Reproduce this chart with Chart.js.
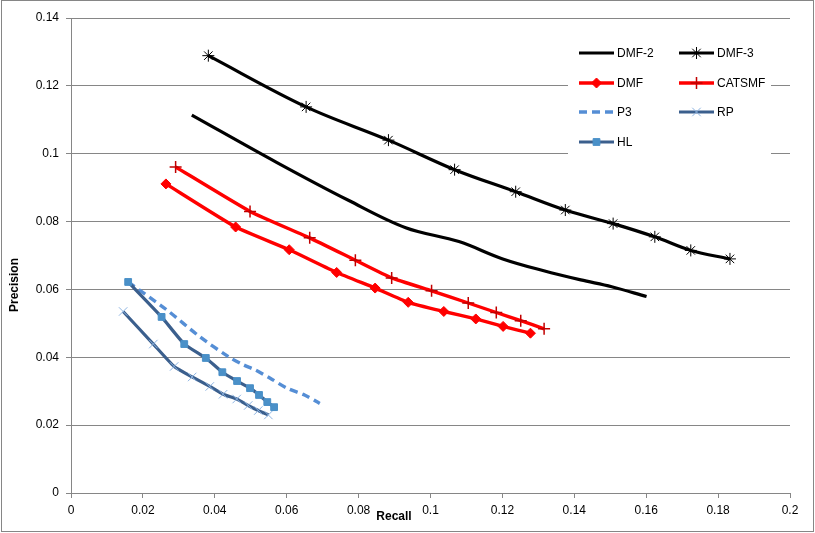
<!DOCTYPE html>
<html>
<head>
<meta charset="utf-8">
<script src="https://cdn.jsdelivr.net/npm/chart.js@4/dist/chart.umd.min.js"></script>
<style>
    html, body { margin: 0; padding: 0; background: #fff; }
    #wrap { width: 815px; height: 533px; position: relative; }
</style>
</head>
<body>
<div id="wrap"><canvas id="chart"></canvas></div>
<script>
// Precision / recall curves

const recallTicks = [0, 0.02, 0.04, 0.06, 0.08, 0.1, 0.12, 0.14, 0.16, 0.18, 0.2];
const precisionTicks = [0, 0.02, 0.04, 0.06, 0.08, 0.1, 0.12, 0.14];

const seriesNames = ['DMF-2', 'DMF-3', 'DMF', 'CATSMF', 'P3', 'RP', 'HL'];

const dmf2Recall = [0.0336, 0.0573, 0.0773, 0.0931, 0.1079, 0.1201, 0.1315, 0.1418, 0.1504, 0.1601];
const dmf2Precision = [0.1114, 0.0974, 0.0862, 0.0782, 0.0741, 0.0690, 0.0655, 0.0628, 0.0608, 0.0579];

const dmf3Recall = [0.0382, 0.0654, 0.0883, 0.1067, 0.1237, 0.1375, 0.1508, 0.1624, 0.1724, 0.1833];
const dmf3Precision = [0.1289, 0.1138, 0.1040, 0.0953, 0.0888, 0.0834, 0.0794, 0.0755, 0.0715, 0.0690];

const dmfRecall = [0.0264, 0.0458, 0.0607, 0.0739, 0.0846, 0.0938, 0.1037, 0.1126, 0.1202, 0.1278];
const dmfPrecision = [0.0911, 0.0784, 0.0717, 0.0650, 0.0604, 0.0562, 0.0535, 0.0513, 0.0491, 0.0471];

const catsmfRecall = [0.0291, 0.0498, 0.0664, 0.0791, 0.0892, 0.1003, 0.1105, 0.1183, 0.1251, 0.1316];
const catsmfPrecision = [0.0961, 0.0830, 0.0752, 0.0686, 0.0634, 0.0596, 0.0560, 0.0532, 0.0508, 0.0484];

const p3Recall = [0.0159, 0.0266, 0.0359, 0.0439, 0.0479, 0.0514, 0.0553, 0.0601, 0.0651, 0.0692];
const p3Precision = [0.0622, 0.0540, 0.0460, 0.0401, 0.0378, 0.0362, 0.0339, 0.0309, 0.0288, 0.0264];

const rpRecall = [0.0145, 0.0229, 0.0287, 0.0337, 0.0386, 0.0423, 0.0461, 0.0493, 0.0521, 0.0549];
const rpPrecision = [0.0535, 0.0439, 0.0373, 0.0342, 0.0314, 0.0291, 0.0277, 0.0258, 0.0243, 0.0230];

const hlRecall = [0.0159, 0.0252, 0.0315, 0.0375, 0.0421, 0.0462, 0.0498, 0.0523, 0.0546, 0.0565];
const hlPrecision = [0.0622, 0.0519, 0.0439, 0.0398, 0.0356, 0.0330, 0.0309, 0.0289, 0.0268, 0.0253];

function toPoints(xs, ys) {
    return xs.map((x, i) => ({ x: x, y: ys[i] }));
}

const FONT = '"Liberation Sans", Arial, sans-serif';
const GRID = '#868686';
const DARK_BLUE = '#3b5f8d';

const datasets = [
    { label: seriesNames[0], data: toPoints(dmf2Recall, dmf2Precision),
      borderColor: '#000', borderWidth: 3.2, pointRadius: 0, tension: 0.35 },
    { label: seriesNames[1], data: toPoints(dmf3Recall, dmf3Precision),
      borderColor: '#000', borderWidth: 3.2, tension: 0.35,
      pointStyle: 'star', pointRadius: 6, pointBorderColor: '#000', pointBorderWidth: 1, pointBackgroundColor: '#000' },
    { label: seriesNames[2], data: toPoints(dmfRecall, dmfPrecision),
      borderColor: '#ff0000', borderWidth: 3.4, tension: 0.15,
      pointStyle: 'rectRot', pointRadius: 5, pointBorderColor: '#ff0000', pointBorderWidth: 1, pointBackgroundColor: '#ff0000' },
    { label: seriesNames[3], data: toPoints(catsmfRecall, catsmfPrecision),
      borderColor: '#ff0000', borderWidth: 3.4, tension: 0.15,
      pointStyle: 'cross', pointRadius: 6, pointBorderColor: '#c00000', pointBorderWidth: 1.5, pointBackgroundColor: '#c00000' },
    { label: seriesNames[4], data: toPoints(p3Recall, p3Precision),
      borderColor: '#558ed5', borderWidth: 3.4, borderDash: [8, 5], pointRadius: 0, tension: 0.3 },
    { label: seriesNames[5], data: toPoints(rpRecall, rpPrecision),
      borderColor: DARK_BLUE, borderWidth: 3.2, tension: 0.15,
      pointStyle: 'crossRot', pointRadius: 6, pointBorderColor: '#8db4e2', pointBorderWidth: 1, pointBackgroundColor: '#8db4e2' },
    { label: seriesNames[6], data: toPoints(hlRecall, hlPrecision),
      borderColor: DARK_BLUE, borderWidth: 3.2, tension: 0.15,
      pointStyle: 'rect', pointRadius: 4.8, pointBorderColor: '#4a90c8', pointBorderWidth: 1, pointBackgroundColor: '#4a90c8' }
];

// excel draws later series on top
datasets.forEach((ds, i) => {
    ds.order = datasets.length - i;
    ds.showLine = true;
    ds.fill = false;
    ds.pointHoverRadius = ds.pointRadius;
});

// legend in two columns inside the plot, plus axis titles and chart border
const extrasPlugin = {
    id: 'extras',
    afterDraw(chart) {
        const ctx = chart.ctx;
        ctx.save();

        // white legend box hides the gridlines behind it
        ctx.fillStyle = '#fff';
        ctx.fillRect(568, 36, 203, 122);

        const colX = [579, 679];
        const rowY = [53, 83, 112, 142];
        const lineLen = 35;
        ctx.font = '12px ' + FONT;
        ctx.textBaseline = 'middle';
        ctx.textAlign = 'left';

        chart.data.datasets.forEach((ds, i) => {
            const x = colX[i % 2];
            const y = rowY[Math.floor(i / 2)];
            ctx.save();
            ctx.strokeStyle = ds.borderColor;
            ctx.lineWidth = ds.borderWidth;
            ctx.setLineDash(ds.borderDash || []);
            ctx.beginPath();
            ctx.moveTo(x, y);
            ctx.lineTo(x + lineLen, y);
            ctx.stroke();
            ctx.restore();

            if (ds.pointRadius > 0) {
                ctx.save();
                ctx.fillStyle = ds.pointBackgroundColor;
                ctx.strokeStyle = ds.pointBorderColor;
                ctx.lineWidth = ds.pointBorderWidth;
                Chart.helpers.drawPoint(ctx, {
                    pointStyle: ds.pointStyle,
                    radius: ds.pointRadius,
                    rotation: 0,
                    borderWidth: ds.pointBorderWidth
                }, x + lineLen / 2, y);
                ctx.restore();
            }

            ctx.fillStyle = '#000';
            ctx.fillText(ds.label, x + lineLen + 3, y + 1);
        });

        // axis titles
        ctx.fillStyle = '#000';
        ctx.font = 'bold 12px ' + FONT;
        ctx.textAlign = 'center';
        ctx.textBaseline = 'middle';
        ctx.fillText('Recall', 394, 517);

        ctx.save();
        ctx.translate(15, 285);
        ctx.rotate(-Math.PI / 2);
        ctx.fillText('Precision', 0, 0);
        ctx.restore();

        // chart area border
        ctx.strokeStyle = GRID;
        ctx.lineWidth = 1;
        ctx.strokeRect(1.5, 0.5, 812, 531);

        ctx.restore();
    }
};

const config = {
    type: 'scatter',
    data: { datasets: datasets },
    options: {
        responsive: true,
        maintainAspectRatio: false,
        animation: false,
        layout: { padding: { top: 18, right: 25, left: 0, bottom: 0 } },
        plugins: {
            legend: { display: false },
            tooltip: { enabled: false }
        },
        scales: {
            x: {
                type: 'linear',
                min: 0,
                max: 0.2,
                afterBuildTicks: scale => { scale.ticks = recallTicks.map(v => ({ value: v })); },
                afterFit: scale => { scale.height = 40; },
                ticks: {
                    callback: v => String(v),
                    color: '#000',
                    font: { family: FONT, size: 12 },
                    padding: 5,
                    maxRotation: 0,
                    autoSkip: false
                },
                grid: { drawOnChartArea: false, drawTicks: true, tickLength: 5, color: GRID },
                border: { color: GRID, width: 1 }
            },
            y: {
                type: 'linear',
                min: 0,
                max: 0.14,
                afterBuildTicks: scale => { scale.ticks = precisionTicks.map(v => ({ value: v })); },
                afterFit: scale => { scale.width = 71; },
                ticks: {
                    callback: v => String(v),
                    color: '#000',
                    font: { family: FONT, size: 12 },
                    padding: 7,
                    autoSkip: false
                },
                grid: { color: GRID, lineWidth: 1, drawTicks: true, tickLength: 5 },
                border: { color: GRID, width: 1 }
            }
        }
    },
    plugins: [extrasPlugin]
};

new Chart(document.getElementById('chart'), config);
</script>
</body>
</html>
